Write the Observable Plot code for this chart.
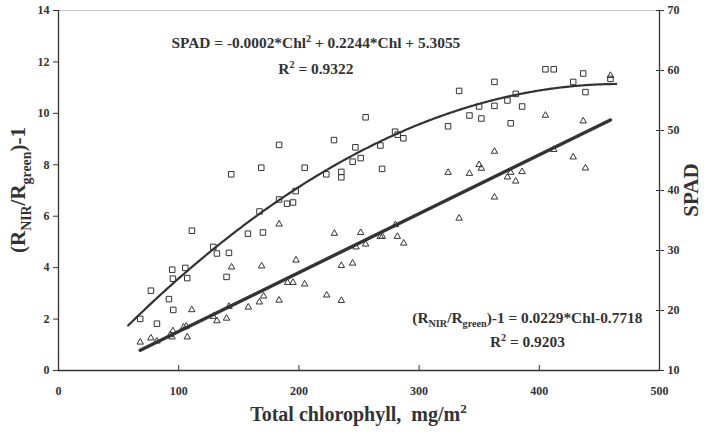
<!DOCTYPE html>
<html><head><meta charset="utf-8">
<script src="https://cdn.jsdelivr.net/npm/d3@7"></script>
<script src="https://cdn.jsdelivr.net/npm/@observablehq/plot@0.6"></script>
<style>html,body{margin:0;padding:0;background:#fff}svg{display:block}</style>
</head><body><div id="chart"></div>
<script>
// ---- data ----
const spadChl = [68.0, 76.9, 81.9, 91.9, 94.6, 95.2, 95.5, 105.5, 107.1, 111.0, 128.8, 131.8, 139.8, 141.8, 143.7, 157.6, 167.2, 168.7, 170.1, 183.5, 183.5, 190.1, 195.1, 197.3, 204.8, 222.8, 229.2, 235.3, 235.3, 244.7, 247.0, 251.4, 255.5, 267.8, 269.2, 280.0, 282.2, 286.9, 324.1, 333.3, 341.9, 349.9, 351.8, 362.7, 362.7, 373.5, 376.2, 380.4, 385.7, 405.1, 412.0, 428.2, 436.5, 438.4, 459.2];
const spadValues = [18.6, 23.3, 17.8, 21.9, 26.8, 25.3, 20.1, 27.1, 25.4, 33.3, 30.6, 29.5, 25.6, 29.6, 42.7, 32.8, 36.5, 43.8, 33.0, 47.6, 38.5, 37.8, 38.0, 39.9, 43.8, 42.7, 48.4, 43.1, 42.2, 44.8, 47.2, 45.4, 52.2, 47.5, 43.6, 49.8, 49.3, 48.7, 50.7, 56.6, 52.5, 54.0, 52.0, 58.1, 54.1, 55.0, 51.2, 56.1, 54.0, 60.2, 60.2, 58.1, 59.5, 56.4, 58.6];
const ratioChl = [68.0, 76.9, 81.9, 93.0, 94.4, 95.2, 104.0, 106.3, 107.1, 110.9, 128.8, 131.8, 139.8, 141.8, 144.0, 157.9, 167.1, 169.0, 170.6, 183.5, 183.5, 190.6, 195.1, 197.6, 204.8, 223.1, 229.5, 235.3, 235.3, 244.7, 247.5, 251.4, 255.5, 267.8, 269.4, 280.3, 281.9, 287.2, 324.1, 333.3, 341.9, 349.9, 351.8, 362.7, 362.7, 373.5, 376.2, 380.4, 385.7, 405.1, 412.0, 428.2, 436.5, 438.4, 459.2];
const ratioValues = [1.10, 1.26, 1.14, 1.39, 1.30, 1.54, 1.68, 1.72, 1.30, 2.36, 2.10, 1.93, 2.03, 2.49, 4.02, 2.46, 2.66, 4.06, 2.89, 5.69, 2.73, 3.42, 3.42, 4.29, 3.36, 2.93, 5.33, 4.08, 2.72, 4.17, 4.80, 5.36, 4.91, 5.21, 5.21, 5.67, 5.21, 4.95, 7.70, 5.92, 7.66, 8.00, 7.86, 8.52, 6.74, 7.52, 7.70, 7.36, 7.73, 9.92, 8.59, 8.30, 9.70, 7.87, 11.47];

const xTicks = [0, 100, 200, 300, 400, 500];
const leftTicks = [0, 2, 4, 6, 8, 10, 12, 14];
const rightTicks = [10, 20, 30, 40, 50, 60, 70];
const xDomain = [0, 500];
const ratioDomain = [0, 14];
const spadDomain = [10, 70];

// trend lines (coefficients as drawn in the reference)
const spadFit = [-0.00024, 0.2244, 5.3055];
const spadFitRange = [58, 464];
const ratioFit = [0.0229, -0.7718];
const ratioFitRange = [68, 459.2];

const xLabel = "Total chlorophyll,  mg/m";
const spadEq = [["SPAD = -0.0002*Chl", ""], ["2", "sup"], [" + 0.2244*Chl + 5.3055", ""]];
const spadR2 = [["R", ""], ["2", "sup"], [" = 0.9322", ""]];
const ratioEq = [["(R", ""], ["NIR", "sub"], ["/R", ""], ["green", "sub"], [")-1 = 0.0229*Chl-0.7718", ""]];
const ratioR2 = [["R", ""], ["2", "sup"], [" = 0.9203", ""]];
const leftTitle = [["(R", ""], ["NIR", "sub"], ["/R", ""], ["green", "sub"], [")-1", ""]];
const rightTitle = [["SPAD", ""]];
// annotation anchor points in (chl, ratio-axis) units
const eqPos = {spadEq: [214.5, 12.52], spadR2: [214.5, 11.5], ratioEq: [390.5, 1.83], ratioR2: [390.5, 0.89]};

// ---- build ----
const FONT = '"Liberation Serif", "Times New Roman", serif';
const INK = "#333";
const toLeft = s => (s - spadDomain[0]) / (spadDomain[1] - spadDomain[0]) * (ratioDomain[1] - ratioDomain[0]) + ratioDomain[0];
const fromLeft = v => (v - ratioDomain[0]) / (ratioDomain[1] - ratioDomain[0]) * (spadDomain[1] - spadDomain[0]) + spadDomain[0];

const spadData = spadChl.map((c, i) => ({c, v: toLeft(spadValues[i])}));
const ratioData = ratioChl.map((c, i) => ({c, v: ratioValues[i]}));
const curveX = d3.range(spadFitRange[0], spadFitRange[1], 2).concat([spadFitRange[1]]);
const curve = curveX.map(c => ({c, v: toLeft(spadFit[0] * c * c + spadFit[1] * c + spadFit[2])}));
const line = ratioFitRange.map(c => ({c, v: ratioFit[0] * c + ratioFit[1]}));

const plot = Plot.plot({
  width: 706, height: 432,
  marginLeft: 58, marginRight: 47, marginTop: 10, marginBottom: 62,
  style: {fontFamily: FONT, fontWeight: "bold", fontSize: "12px", color: INK, background: "#fff"},
  x: {domain: xDomain},
  y: {domain: ratioDomain},
  marks: [
    Plot.frame({stroke: "#c4c4c4"}),
    Plot.axisX(xTicks, {tickSize: 5, dy: -5, tickPadding: 16, label: null, stroke: INK}),
    Plot.axisY(leftTicks, {tickSize: 5, tickPadding: 4, label: null, stroke: INK}),
    Plot.axisY(rightTicks.map(toLeft), {anchor: "right", tickSize: 8, dx: -4, tickPadding: 4, label: null, stroke: INK,
      tickFormat: v => String(Math.round(fromLeft(v)))}),
    Plot.ruleX(xDomain, {stroke: INK, strokeWidth: 1.3}),
    Plot.ruleY([ratioDomain[0]], {stroke: INK, strokeWidth: 1.3}),
    Plot.line(curve, {x: "c", y: "v", stroke: INK, strokeWidth: 2.2, curve: "basis"}),
    Plot.line(line, {x: "c", y: "v", stroke: INK, strokeWidth: 3.4}),
    Plot.dot(spadData, {x: "c", y: "v", symbol: "square", r: 3.1, stroke: INK, strokeWidth: 1, fill: "none"}),
    Plot.dot(ratioData, {x: "c", y: "v", symbol: "triangle", r: 2.4, stroke: INK, strokeWidth: 1, fill: "none"})
  ]
});
document.getElementById("chart").appendChild(plot);

const svg = d3.select(plot);
const sx = plot.scale("x"), sy = plot.scale("y");
function addText(px, py, parts, size, rotate) {
  const t = svg.append("text")
    .attr("transform", `translate(${px},${py})` + (rotate ? ` rotate(${rotate})` : ""))
    .attr("text-anchor", "middle")
    .attr("font-family", FONT).attr("font-weight", "bold")
    .attr("font-size", size).attr("fill", INK);
  let shift = 0;
  parts.forEach(([txt, kind]) => {
    const target = kind === "sub" ? 0.28 * size : kind === "sup" ? -0.4 * size : 0;
    t.append("tspan").text(txt)
      .attr("font-size", kind ? size * 0.66 : size)
      .attr("dy", target - shift);
    shift = target;
  });
  return t;
}
const P = k => [sx.apply(eqPos[k][0]), sy.apply(eqPos[k][1])];
addText(...P("spadEq"), spadEq, 15.4);
addText(...P("spadR2"), spadR2, 15.4);
addText(...P("ratioEq"), ratioEq, 15.4);
addText(...P("ratioR2"), ratioR2, 15.4);
addText(25, 190, leftTitle, 21, -90);
addText(698, 190, rightTitle, 21, -90);
addText((sx.range[0] + sx.range[1]) / 2, 421, [[xLabel, ""], ["2", "sup"]], 20);
</script>
</body></html>
